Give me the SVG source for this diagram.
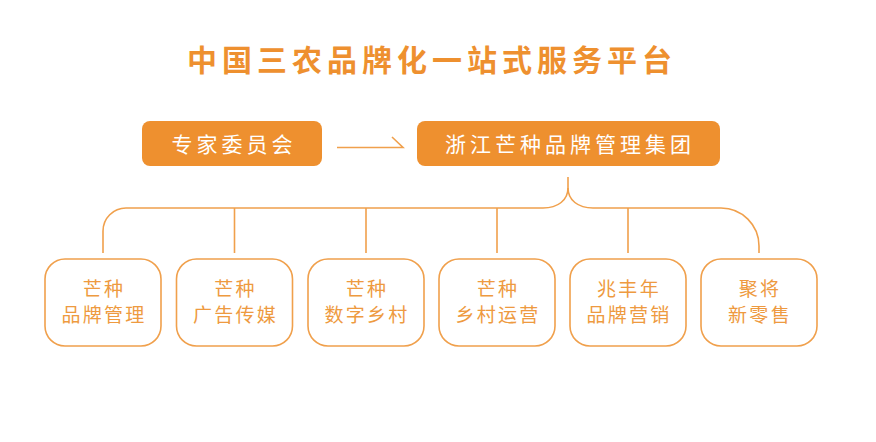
<svg xmlns="http://www.w3.org/2000/svg" width="876" height="442" viewBox="0 0 876 442">
<style>
.t{font-family:"Noto Sans CJK SC","Noto Sans",sans-serif;}
.title{font-size:30px;font-weight:bold;fill:#EE902F;letter-spacing:5px;}
.hb{fill:#EE902F;}
.ht{font-size:21px;fill:#FFFFFF;letter-spacing:4px;}
.cb{fill:#FFFFFF;stroke:#F0A04C;stroke-width:1.6;}
.ct{font-size:19px;fill:#EE9A40;letter-spacing:2.3px;}
.ln{fill:none;stroke:#F0A04C;stroke-width:1.6;}
</style>
<rect width="876" height="442" fill="#FFFFFF"/>
<text class="t title" x="432" y="71" text-anchor="middle">中国三农品牌化一站式服务平台</text>
<g id="expert">
<rect class="hb" x="142" y="121" width="180" height="45" rx="8"/>
<text class="t ht" x="234" y="152" text-anchor="middle">专家委员会</text>
</g>
<g id="group">
<rect class="hb" x="417" y="121" width="303" height="45" rx="8"/>
<text class="t ht" x="570" y="152" text-anchor="middle">浙江芒种品牌管理集团</text>
</g>
<g id="connectors">
<path class="ln" d="M337 147.5 L403 147.5 L392 137"/>
<path class="ln" d="M568 177 L568 188 C568 200 558 208 543 208 L126 208 A23 23 0 0 0 103 231 L103 253"/>
<path class="ln" d="M568 188 C568 200 578 208 593 208 L721 208 A38 38 0 0 1 759 246 L759 253"/>
<path class="ln" d="M234.5 208 V253 M366 208 V253 M497 208 V253 M628 208 V253"/>
</g>
<g id="n1"><rect class="cb" x="45" y="259" width="116" height="87" rx="20"/>
<text class="t ct" x="104" y="295.5" text-anchor="middle">芒种</text><text class="t ct" x="104" y="321.5" text-anchor="middle">品牌管理</text></g>
<g id="n2"><rect class="cb" x="176.5" y="259" width="116" height="87" rx="20"/>
<text class="t ct" x="235.5" y="295.5" text-anchor="middle">芒种</text><text class="t ct" x="235.5" y="321.5" text-anchor="middle">广告传媒</text></g>
<g id="n3"><rect class="cb" x="308" y="259" width="116" height="87" rx="20"/>
<text class="t ct" x="367" y="295.5" text-anchor="middle">芒种</text><text class="t ct" x="367" y="321.5" text-anchor="middle">数字乡村</text></g>
<g id="n4"><rect class="cb" x="439" y="259" width="116" height="87" rx="20"/>
<text class="t ct" x="498" y="295.5" text-anchor="middle">芒种</text><text class="t ct" x="498" y="321.5" text-anchor="middle">乡村运营</text></g>
<g id="n5"><rect class="cb" x="570" y="259" width="116" height="87" rx="20"/>
<text class="t ct" x="629" y="295.5" text-anchor="middle">兆丰年</text><text class="t ct" x="629" y="321.5" text-anchor="middle">品牌营销</text></g>
<g id="n6"><rect class="cb" x="701" y="259" width="116" height="87" rx="20"/>
<text class="t ct" x="760" y="295.5" text-anchor="middle">聚将</text><text class="t ct" x="760" y="321.5" text-anchor="middle">新零售</text></g>
</svg>
